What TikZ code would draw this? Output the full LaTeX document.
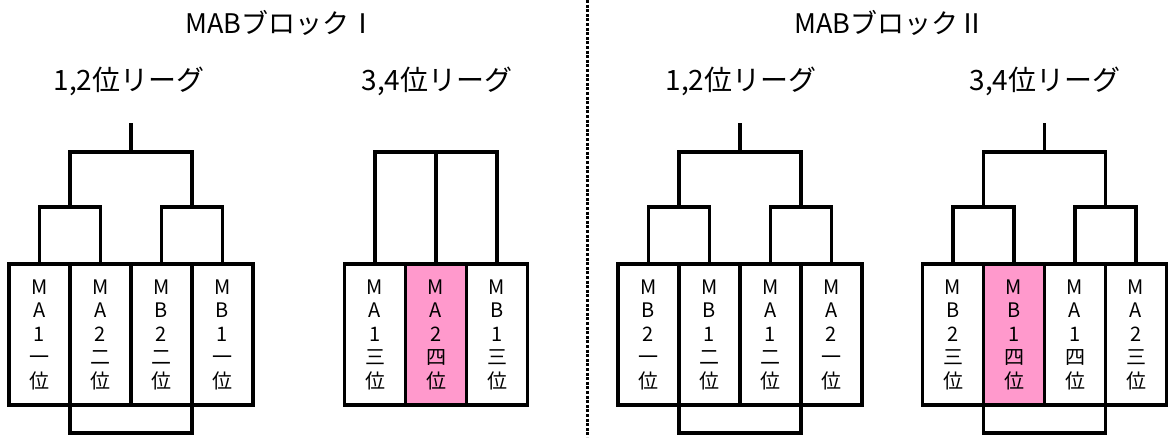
\documentclass[tikz,border=0pt]{standalone}
\usepackage{fontspec}
\setmainfont{Noto Sans CJK JP}
\usepackage{tikz}
\usetikzlibrary{positioning}
\definecolor{pinkfill}{HTML}{FF99CC}
\tikzstyle{team} = [rectangle, draw=black, line width=3.6pt, outer sep=0pt, inner sep=0pt, minimum width=61pt, minimum height=141pt, align=center, font=\fontsize{20}{23.5}\selectfont]
\tikzstyle{fourth} = [team, fill=pinkfill]
\tikzstyle{bracket} = [line width=3.6pt]
\tikzstyle{blocktitle} = [font=\fontsize{27}{30}\selectfont]
\tikzstyle{league} = [font=\fontsize{28}{30}\selectfont]
\tikzstyle{divider} = [line width=3pt, dash pattern=on 3pt off 1.6pt]

\begin{document}
\begin{tikzpicture}[x=1pt, y=-1pt]
	\useasboundingbox (0,0) rectangle (1170,437);

		% Titles
		\node (titleI) [blocktitle] at (281,23) {MABブロックⅠ};
		\node (titleII) [blocktitle] at (890,23) {MABブロックⅡ};
		\node (leagueIa) [league] at (129,81) {1,2位リーグ};
		\node (leagueIc) [league] at (437,81) {3,4位リーグ};
		\node (leagueIIa) [league] at (741,81) {1,2位リーグ};
		\node (leagueIIc) [league] at (1045,81) {3,4位リーグ};

		% Block I, 1,2 league
		\node (ia1) [team] at (39.5,334.5) {M\\A\\1\\一\\位};
		\node (ia2) [team, right=0pt of ia1] {M\\A\\2\\二\\位};
		\node (ia3) [team, right=0pt of ia2] {M\\B\\2\\二\\位};
		\node (ia4) [team, right=0pt of ia3] {M\\B\\1\\一\\位};

		% Block I, 3,4 league
		\node (ic1) [team] at (375,334.5) {M\\A\\1\\三\\位};
		\node (ic2) [fourth, right=0pt of ic1] {M\\A\\2\\四\\位};
		\node (ic3) [team, right=0pt of ic2] {M\\B\\1\\三\\位};

		% Block II, 1,2 league
		\node (iia1) [team] at (648.5,334.5) {M\\B\\2\\一\\位};
		\node (iia2) [team, right=0pt of iia1] {M\\B\\1\\二\\位};
		\node (iia3) [team, right=0pt of iia2] {M\\A\\1\\二\\位};
		\node (iia4) [team, right=0pt of iia3] {M\\A\\2\\一\\位};

		% Block II, 3,4 league
		\node (iic1) [team] at (953,334.5) {M\\B\\2\\三\\位};
		\node (iic2) [fourth, right=0pt of iic1] {M\\B\\1\\四\\位};
		\node (iic3) [team, right=0pt of iic2] {M\\A\\1\\四\\位};
		\node (iic4) [team, right=0pt of iic3] {M\\A\\2\\三\\位};

		% Bracket joints
		\coordinate (iaj1) at ([yshift=57pt]ia1.north east);
		\coordinate (iaj2) at ([yshift=57pt]ia3.north east);
		\coordinate (iatop) at ([yshift=112pt]ia2.north east);
		\coordinate (iawin) at ([yshift=141pt]ia2.north east);
		\coordinate (iabot) at ([yshift=-28pt]ia2.south east);
		\coordinate (ictop) at ([yshift=112pt]ic2.north);
		\coordinate (iiaj1) at ([yshift=57pt]iia1.north east);
		\coordinate (iiaj2) at ([yshift=57pt]iia3.north east);
		\coordinate (iiatop) at ([yshift=112pt]iia2.north east);
		\coordinate (iiawin) at ([yshift=141pt]iia2.north east);
		\coordinate (iiabot) at ([yshift=-28pt]iia2.south east);
		\coordinate (iicj1) at ([yshift=57pt]iic1.north east);
		\coordinate (iicj2) at ([yshift=57pt]iic3.north east);
		\coordinate (iictop) at ([yshift=112pt]iic2.north east);
		\coordinate (iicwin) at ([yshift=141pt]iic2.north east);
		\coordinate (iicbot) at ([yshift=-28pt]iic2.south east);
		\coordinate (divtop) at (587,0);
		\coordinate (divbot) at (587,437);

		% Draw the brackets
		\draw [bracket] (ia1.north) |- (iaj1) -| (ia2.north);
		\draw [bracket] (ia3.north) |- (iaj2) -| (ia4.north);
		\draw [bracket] (iaj1) |- (iatop) -| (iaj2);
		\draw [bracket] (iatop) -- (iawin);
		\draw [bracket] (ia1.south east) |- (iabot) -| (ia3.south east);

		\draw [bracket] (ic1.north) |- (ictop) -| (ic3.north);
		\draw [bracket] (ictop) -- (ic2.north);

		\draw [bracket] (iia1.north) |- (iiaj1) -| (iia2.north);
		\draw [bracket] (iia3.north) |- (iiaj2) -| (iia4.north);
		\draw [bracket] (iiaj1) |- (iiatop) -| (iiaj2);
		\draw [bracket] (iiatop) -- (iiawin);
		\draw [bracket] (iia1.south east) |- (iiabot) -| (iia3.south east);

		\draw [bracket] (iic1.north) |- (iicj1) -| (iic2.north);
		\draw [bracket] (iic3.north) |- (iicj2) -| (iic4.north);
		\draw [bracket] (iicj1) |- (iictop) -| (iicj2);
		\draw [bracket] (iictop) -- (iicwin);
		\draw [bracket] (iic1.south east) |- (iicbot) -| (iic3.south east);

		% Divider
		\draw [divider] (divtop) -- (divbot);

\end{tikzpicture}
\end{document}
